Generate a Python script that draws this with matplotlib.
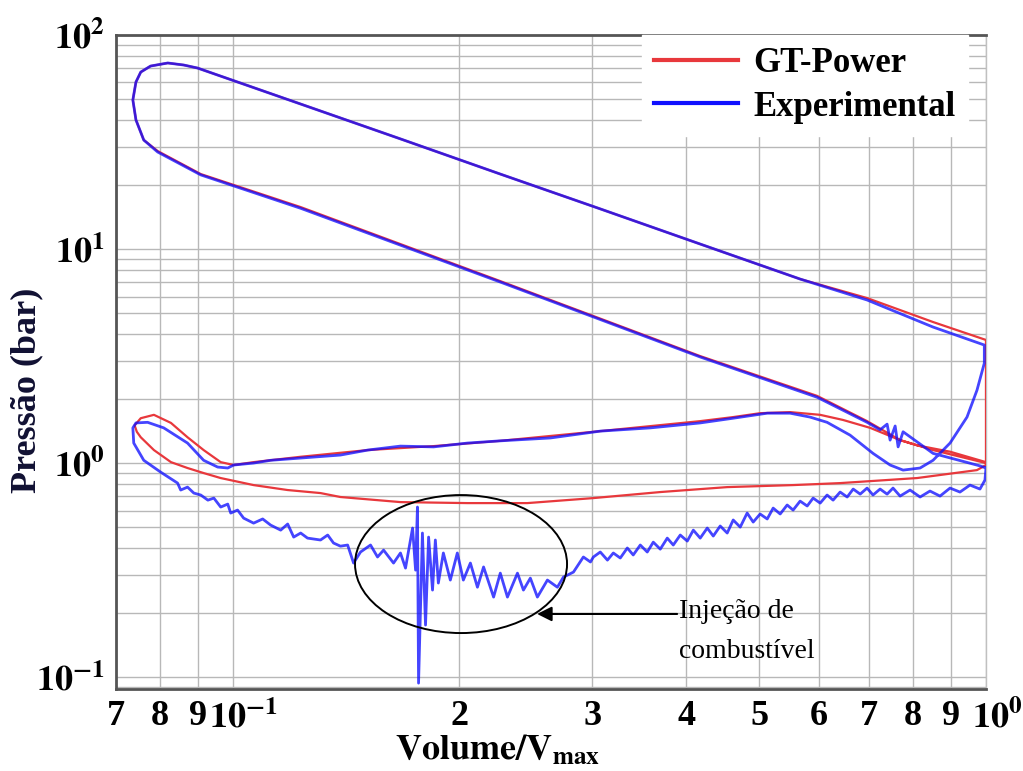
import numpy as np
import matplotlib
matplotlib.use("Agg")
import matplotlib.pyplot as plt
from matplotlib.patches import Ellipse
from matplotlib.transforms import ScaledTranslation

plt.rcParams['font.family'] = ['Liberation Serif', 'DejaVu Serif']
plt.rcParams['mathtext.fontset'] = 'stix'

# --- Experimental (azul): compressao, combustao/expansao, escape, admissao ---
exp_comp_v = [1.0, 0.9818, 0.8506, 0.7762, 0.7645, 0.7576, 0.746, 0.7392, 0.7235, 0.6953,
              0.5968, 0.4175, 0.2266, 0.1231, 0.0907, 0.0795]
exp_comp_p = [0.948, 0.97, 1.11, 1.40, 1.19, 1.49, 1.28, 1.52, 1.43, 1.55,
              2.03, 3.13, 7.01, 15.5, 22.2, 28.4]
exp_expa_v = [0.0762, 0.0744, 0.0737, 0.0744, 0.0755, 0.0778, 0.0820, 0.0861, 0.0898,
              0.1231, 0.1670, 0.2266, 0.3076, 0.4175, 0.5666, 0.6953, 0.8506, 0.995]
exp_expa_p = [32.3, 40.1, 49.7, 60.3, 67.1, 71.6, 74.0, 72.4, 70.1,
              47.6, 32.7, 22.4, 15.4, 10.55, 7.24, 5.78, 4.32, 3.56]
exp_esc_v = [0.995, 0.9729, 0.9437, 0.896, 0.8506, 0.8176, 0.7762, 0.746, 0.708, 0.6601,
             0.6153, 0.584, 0.5495, 0.5124, 0.4618, 0.4175, 0.3585, 0.3076, 0.2641, 0.2266,
             0.205, 0.1848, 0.167, 0.1511, 0.139, 0.1231, 0.1123, 0.1066, 0.1003, 0.0985,
             0.0955, 0.0915, 0.0871, 0.081, 0.0771, 0.0744, 0.0737, 0.0739, 0.0762, 0.0802]
exp_esc_p = [2.93, 2.19, 1.64, 1.24, 1.03, 0.948, 0.927, 0.979, 1.11, 1.35,
             1.55, 1.64, 1.71, 1.71, 1.62, 1.54, 1.46, 1.41, 1.31, 1.27,
             1.24, 1.19, 1.20, 1.15, 1.09, 1.055, 1.03, 1.0, 0.979, 0.948,
             0.958, 1.03, 1.24, 1.46, 1.55, 1.54, 1.46, 1.24, 1.03, 0.908]
exp_adm_v = [0.0845, 0.0853, 0.0871, 0.0888, 0.0907, 0.0927, 0.0944, 0.0964, 0.0985, 0.0994,
             0.1015, 0.1034, 0.1066, 0.1096, 0.1123, 0.1158, 0.1183, 0.1205, 0.1231, 0.1257,
             0.1308, 0.1337, 0.1361, 0.139, 0.1421, 0.1447, 0.1478, 0.1524, 0.1557, 0.1586,
             0.1635, 0.167, 0.1696, 0.1722, 0.1733, 0.1749, 0.1759, 0.1765, 0.1786, 0.1803,
             0.182, 0.1842, 0.1858, 0.1875, 0.1904, 0.1945, 0.1987, 0.2024, 0.2068, 0.2113,
             0.2153, 0.222, 0.2266, 0.2316, 0.2388, 0.2432, 0.2484, 0.2538, 0.2617, 0.2698,
             0.2748, 0.2834, 0.2921, 0.2985,
             0.3012, 0.3076, 0.3144, 0.3201, 0.3270, 0.3341, 0.3402, 0.3476, 0.3551, 0.3617,
             0.3695, 0.3775, 0.3845, 0.3928, 0.4013, 0.4088, 0.4175, 0.4266, 0.4345, 0.4438,
             0.4534, 0.4618, 0.4718, 0.4819, 0.4909, 0.5014, 0.5124, 0.5218, 0.5331, 0.5446,
             0.5546, 0.5666, 0.579, 0.5896, 0.6024, 0.6153, 0.6267, 0.6403, 0.6543, 0.6664,
             0.6808, 0.6953, 0.708, 0.7235, 0.7392, 0.7527, 0.7691, 0.7929, 0.8176, 0.8427,
             0.8690, 0.896, 0.9236, 0.9523, 0.9818, 0.9969]
exp_adm_p = [0.806, 0.748, 0.772, 0.724, 0.709, 0.671, 0.686, 0.623, 0.643, 0.584,
             0.603, 0.553, 0.524, 0.548, 0.513, 0.486, 0.519, 0.451, 0.471, 0.446,
             0.437, 0.461, 0.423, 0.409, 0.414, 0.341, 0.384, 0.414, 0.364, 0.392,
             0.341, 0.380, 0.323, 0.437, 0.497, 0.316, 0.623, 0.0937, 0.471, 0.175,
             0.451, 0.255, 0.437, 0.275, 0.380, 0.284, 0.380, 0.284, 0.341, 0.263,
             0.327, 0.2365, 0.306, 0.2365, 0.306, 0.255, 0.290, 0.2365, 0.284, 0.263,
             0.293, 0.3095, 0.364, 0.345,
             0.364, 0.384, 0.352, 0.380, 0.360, 0.401, 0.372, 0.414, 0.384, 0.427,
             0.396, 0.446, 0.414, 0.461, 0.432, 0.486, 0.446, 0.497, 0.456, 0.508,
             0.471, 0.542, 0.502, 0.584, 0.530, 0.578, 0.548, 0.616, 0.578, 0.637,
             0.603, 0.664, 0.630, 0.686, 0.650, 0.709, 0.671, 0.732, 0.694, 0.756,
             0.716, 0.764, 0.709, 0.756, 0.716, 0.764, 0.701, 0.748, 0.694, 0.740,
             0.701, 0.764, 0.732, 0.789, 0.756, 0.833]

# --- GT-Power (vermelho) ---
gt_comp_v = [1.0, 0.8506, 0.7691, 0.6953, 0.5968, 0.4175, 0.2266, 0.1231, 0.0907, 0.0795]
gt_comp_p = [1.0, 1.15, 1.28, 1.57, 2.06, 3.16, 7.08, 15.7, 22.4, 28.7]
gt_expa_v = [0.0762, 0.0744, 0.0737, 0.0744, 0.0755, 0.0778, 0.0820, 0.0861, 0.0898,
             0.1231, 0.1670, 0.2266, 0.3076, 0.4175, 0.5666, 0.6953, 0.8506, 1.0]
gt_expa_p = [32.3, 40.1, 49.7, 60.3, 67.1, 71.6, 74.0, 72.4, 70.1,
             47.6, 32.7, 22.4, 15.4, 10.55, 7.24, 5.90, 4.56, 3.76]
gt_esc_v = [1.0, 1.0, 0.896, 0.81, 0.7691, 0.702, 0.646, 0.6024, 0.5495, 0.5014,
            0.4618, 0.4175, 0.3076, 0.2266, 0.1848, 0.1511, 0.1231, 0.1066, 0.1003,
            0.0964, 0.0915, 0.0871, 0.0828, 0.0786, 0.0755, 0.0741]
gt_esc_p = [3.76, 1.01, 1.13, 1.21, 1.28, 1.46, 1.59, 1.68, 1.73, 1.71,
            1.64, 1.57, 1.41, 1.27, 1.20, 1.15, 1.07, 1.01, 0.979,
            1.01, 1.15, 1.32, 1.54, 1.68, 1.62, 1.50]
gt_adm_v = [0.0746, 0.0755, 0.0786, 0.0828, 0.0871, 0.0915, 0.0964, 0.1066, 0.1183, 0.1308,
            0.139, 0.167, 0.205, 0.2461, 0.3012, 0.3695, 0.4534, 0.5546, 0.6403, 0.81,
            0.9729, 1.0]
gt_adm_p = [1.40, 1.32, 1.15, 1.01, 0.948, 0.898, 0.851, 0.789, 0.748, 0.724,
            0.694, 0.657, 0.650, 0.650, 0.686, 0.732, 0.772, 0.789, 0.806, 0.851,
            0.927, 0.979]

x_ticks = [0.07, 0.08, 0.09, 0.1, 0.2, 0.3, 0.4, 0.5, 0.6, 0.7, 0.8, 0.9, 1.0]
x_labels = ['7', '8', '9', r'$\mathbf{10^{-1}}$', '2', '3', '4', '5', '6', '7', '8', '9',
            r'$\mathbf{10^{0}}$']
y_ticks = [0.1, 1, 10, 100]
y_labels = [r'$\mathbf{10^{-1}}$', r'$\mathbf{10^{0}}$', r'$\mathbf{10^{1}}$', r'$\mathbf{10^{2}}$']

fig = plt.figure(figsize=(10.23, 7.71), dpi=100)
ax = fig.add_axes([0.1134, 0.1064, 0.8504, 0.8482])

gt_v = gt_comp_v + gt_expa_v + gt_esc_v + gt_adm_v + gt_comp_v[:1]
gt_p = gt_comp_p + gt_expa_p + gt_esc_p + gt_adm_p + gt_comp_p[:1]
ex_v = exp_comp_v + exp_expa_v + exp_esc_v + exp_adm_v + exp_comp_v[:1]
ex_p = exp_comp_p + exp_expa_p + exp_esc_p + exp_adm_p + exp_comp_p[:1]

ax.plot(gt_v, gt_p, color='#e8383c', lw=1.6, label='GT-Power', zorder=3)
ax.plot(ex_v, ex_p, color='#1010ff', lw=2.0, alpha=0.78, label='Experimental', zorder=4)

ax.set_xscale('log')
ax.set_yscale('log')
ax.set_xlim(0.07, 1.0)
ax.set_ylim(0.088, 100)

ax.set_xticks(x_ticks)
ax.set_xticklabels(x_labels)
ax.xaxis.set_minor_locator(matplotlib.ticker.NullLocator())
ax.set_yticks(y_ticks)
ax.set_yticklabels(y_labels)
ax.yaxis.set_minor_locator(matplotlib.ticker.LogLocator(base=10, subs=np.arange(2, 10)))
ax.yaxis.set_minor_formatter(matplotlib.ticker.NullFormatter())

ax.tick_params(which='both', length=0)
ax.tick_params(axis='x', pad=8, labelsize=26)
ax.tick_params(axis='y', pad=8, labelsize=26)
for lab in ax.get_xticklabels() + ax.get_yticklabels():
    lab.set_fontweight('bold')

# "10" centrado no tick, expoente para a direita
for lab in ax.get_xticklabels():
    if '10' in lab.get_text():
        lab.set_transform(lab.get_transform() + ScaledTranslation(0.11, 0, fig.dpi_scale_trans))

ax.grid(True, which='both', color='#b8b8b8', lw=1.0)
ax.set_axisbelow(True)
for s in ['left', 'bottom', 'top']:
    ax.spines[s].set_color('#555555')
    ax.spines[s].set_linewidth(2)
ax.spines['right'].set_color('#c0c0c0')
ax.spines['right'].set_linewidth(1)

ax.set_xlabel(r'$\mathbf{Volume/V_{max}}$', fontsize=26)
ax.xaxis.set_label_coords(0.438, -0.068)
ax.set_ylabel('Pressão (bar)', fontsize=26, fontweight='bold', color='#111133')
ax.yaxis.set_label_coords(-0.084, 0.457)

leg = ax.legend(loc='upper left', bbox_to_anchor=(0.605, 1.0), borderaxespad=0,
                frameon=True, framealpha=1, edgecolor='white', fancybox=False,
                handlelength=2.4, handletextpad=0.45, labelspacing=0.3, borderpad=0.35,
                prop={'family': 'Liberation Serif', 'weight': 'bold', 'size': 25})
for line in leg.get_lines():
    line.set_linewidth(3)
    line.set_alpha(1)

# destaque da injecao de combustivel
ell = Ellipse((0.3966, 0.191), 0.2437, 0.211, transform=ax.transAxes,
              fill=False, edgecolor='black', lw=1.4, zorder=5)
ax.add_patch(ell)
ax.annotate('', xy=(0.484, 0.1147), xycoords='axes fraction',
            xytext=(0.645, 0.1147), textcoords='axes fraction',
            arrowprops=dict(arrowstyle='-|>', color='black', lw=1.5,
                            mutation_scale=22, shrinkA=0, shrinkB=0))
ax.text(0.647, 0.137, 'Injeção de\ncombustível', transform=ax.transAxes,
        fontsize=20, ha='left', va='top', linespacing=1.75)

fig.savefig('out.png', dpi=100)
